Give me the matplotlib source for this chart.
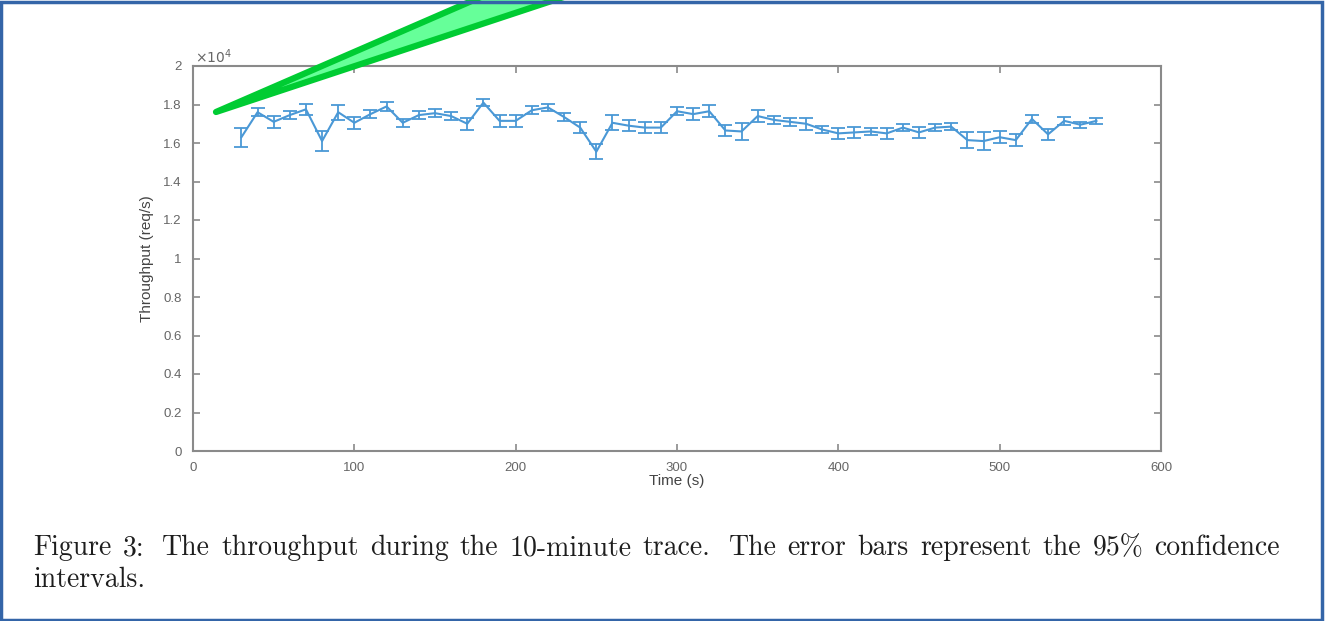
import numpy as np
import matplotlib.pyplot as plt
from matplotlib.patches import Polygon, Rectangle
from matplotlib.ticker import FuncFormatter

# throughput samples, one every 10 s
time_s = [30, 40, 50, 60, 70, 80, 90, 100, 110, 120, 130, 140, 150, 160, 170,
          180, 190, 200, 210, 220, 230, 240, 250, 260, 270, 280, 290, 300, 310,
          320, 330, 340, 350, 360, 370, 380, 390, 400, 410, 420, 430, 440, 450,
          460, 470, 480, 490, 500, 510, 520, 530, 540, 550, 560]
throughput = [16300, 17600, 17100, 17450, 17750, 16100, 17600, 17050, 17500,
              17900, 17050, 17450, 17550, 17400, 17000, 18100, 17150, 17150,
              17700, 17850, 17350, 16800, 15550, 17050, 16900, 16800, 16800,
              17650, 17500, 17650, 16650, 16600, 17400, 17200, 17100, 17000,
              16700, 16500, 16550, 16600, 16500, 16800, 16550, 16800, 16850,
              16150, 16100, 16300, 16150, 17250, 16450, 17150, 16950, 17150]
# half width of the 95% confidence interval
ci95 = [500, 200, 300, 200, 300, 500, 400, 300, 200, 250, 200, 200, 200, 200,
        300, 200, 300, 300, 200, 200, 200, 300, 400, 400, 300, 300, 300, 200,
        300, 300, 300, 450, 300, 200, 200, 300, 200, 300, 300, 200, 300, 200,
        300, 200, 200, 400, 450, 300, 300, 200, 300, 200, 150, 150]

caption = ("Figure 3: The throughput during the 10-minute trace. "
           "The error bars represent the 95% confidence")
caption2 = "intervals."

plt.rcParams["font.family"] = ["Liberation Sans", "DejaVu Sans"]

W, H = 1329, 621
fig = plt.figure(figsize=(W / 100, H / 100), dpi=100)
fig.patch.set_facecolor("white")

ax = fig.add_axes([193 / W, 1 - 451 / H, 968 / W, 385 / H])
gray = "#8a8a8a"
ax.errorbar(time_s, throughput, yerr=ci95, color="#4a98d6", lw=1.5,
            elinewidth=1.3, capsize=5, capthick=1.3)

ax.set_xlim(0, 600)
ax.set_ylim(0, 20000)
ax.set_xticks(np.arange(0, 601, 100))
ax.set_yticks(np.arange(0, 20001, 2000))
ax.yaxis.set_major_formatter(FuncFormatter(lambda v, p: "%g" % (v / 1e4)))
ax.tick_params(direction="in", length=5, width=1.2, colors=gray,
               labelsize=9.5, top=True, right=True)
ax.tick_params(axis="x", pad=8)
ax.tick_params(axis="y", pad=8)
for lbl in ax.get_xticklabels() + ax.get_yticklabels():
    lbl.set_color("#666666")
for s in ax.spines.values():
    s.set_color(gray)
    s.set_linewidth(1.5)
ax.set_xlabel("Time (s)", fontsize=11, color="#444444", labelpad=0)
ax.set_ylabel("Throughput (req/s)", fontsize=11, color="#444444", labelpad=7)
ax.text(0.002, 1.0, r"$\times10^4$", transform=ax.transAxes, fontsize=10,
        color="#666666", ha="left", va="bottom")


def px(x, y):
    return (x / W, 1 - y / H)


# caption below the plot; the first line is justified between x=33 and x=1280
cap_font = ["cmr10", "DejaVu Serif"]
cap_kw = dict(fontsize=20, family=cap_font, color="#1e1e1e", va="baseline",
              ha="left")
words = caption.split()
renderer = fig.canvas.get_renderer()
pieces = [fig.text(*px(33, 555), w, **cap_kw) for w in words]
widths = [t.get_window_extent(renderer).width for t in pieces]
# a bit more room after the end of a sentence
weights = [1.6 if w.endswith((".", ":")) else 1.0 for w in words[:-1]]
unit = (1280 - 33 - sum(widths)) / sum(weights)
x = 33.0
for i, (t, w) in enumerate(zip(pieces, widths)):
    t.set_position(px(x, 555))
    if i < len(weights):
        x += w + unit * weights[i]
fig.text(*px(33, 587), caption2, **cap_kw)

# green pointer wedge
wedge = Polygon([px(216, 112), px(520, -20), px(615, -20)], closed=True,
                transform=fig.transFigure, facecolor="#66ff99",
                edgecolor="#00cc33", lw=4.5, joinstyle="round", zorder=10)
fig.patches.append(wedge)

# blue frame around the whole figure
frame = Rectangle((0.001, 0.002), 0.994, 0.994, transform=fig.transFigure,
                  fill=False, edgecolor="#3465a8", lw=2.5, zorder=11)
fig.patches.append(frame)

fig.savefig("out.png", dpi=100)
